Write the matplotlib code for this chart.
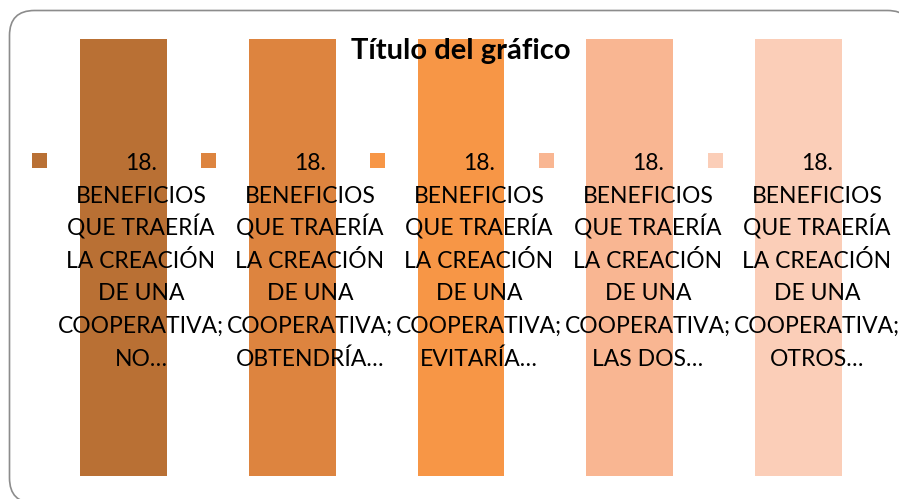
import matplotlib
matplotlib.use("Agg")
import matplotlib.pyplot as plt
import numpy as np
from matplotlib.patches import FancyBboxPatch, Rectangle
from matplotlib.transforms import IdentityTransform

# Chart data (Excel chart: five series, one category, axes hidden)
title = "Título del gráfico"
series_labels = [
  "18.\nBENEFICIOS\nQUE TRAERÍA\nLA CREACIÓN\nDE UNA\nCOOPERATIVA;\nNO…",
  "18.\nBENEFICIOS\nQUE TRAERÍA\nLA CREACIÓN\nDE UNA\nCOOPERATIVA;\nOBTENDRÍA…",
  "18.\nBENEFICIOS\nQUE TRAERÍA\nLA CREACIÓN\nDE UNA\nCOOPERATIVA;\nEVITARÍA…",
  "18.\nBENEFICIOS\nQUE TRAERÍA\nLA CREACIÓN\nDE UNA\nCOOPERATIVA;\nLAS DOS…",
  "18.\nBENEFICIOS\nQUE TRAERÍA\nLA CREACIÓN\nDE UNA\nCOOPERATIVA;\nOTROS…",
]
values = [1, 1, 1, 1, 1]
colors = ["#B97034", "#DD843F", "#F79646", "#F9B692", "#FBCEB8"]

plt.rcParams["font.family"] = ["Lato", "DejaVu Sans"]

W, H = 899, 499
fig = plt.figure(figsize=(W / 100, H / 100), dpi=100)

# chart frame with rounded corners (pixel coords)
frame = FancyBboxPatch(
  (9.5, -4), 903, 492.5,
  boxstyle="round,pad=0,rounding_size=25",
  transform=IdentityTransform(), facecolor="white", edgecolor="#8c8c8c",
  linewidth=1.2, zorder=-1,
)
fig.patches.append(frame)

# plot area
ax = fig.add_axes([38.75 / W, 23 / H, 844.5 / W, 437 / H])
ax.patch.set_alpha(0)
x = np.arange(len(values))
ax.bar(x, values, width=87 / 169, color=colors)
ax.set_xlim(-0.5, len(values) - 0.5)
ax.set_ylim(0, max(values))
ax.axis("off")

# title
fig.text(461 / W, (H - 59.5) / H, title, ha="center", va="baseline",
         fontsize=21, fontweight="bold", color="black", zorder=5)

# legend drawn by hand, Excel style (wrapped labels, centred lines)
pitch = 32.6
for i, (label, color) in enumerate(zip(series_labels, colors)):
  x0 = 32 + 169 * i
  fig.patches.append(Rectangle((x0, H - 168), 15, 15, transform=IdentityTransform(),
                               facecolor=color, edgecolor="none", zorder=5))
  cx = 141 + 169 * i
  for j, line in enumerate(label.split("\n")):
    fig.text(cx / W, (H - 170 - pitch * j) / H, line, ha="center", va="baseline",
             fontsize=16.5, color="black", zorder=5)

fig.savefig("out.png", dpi=100)
